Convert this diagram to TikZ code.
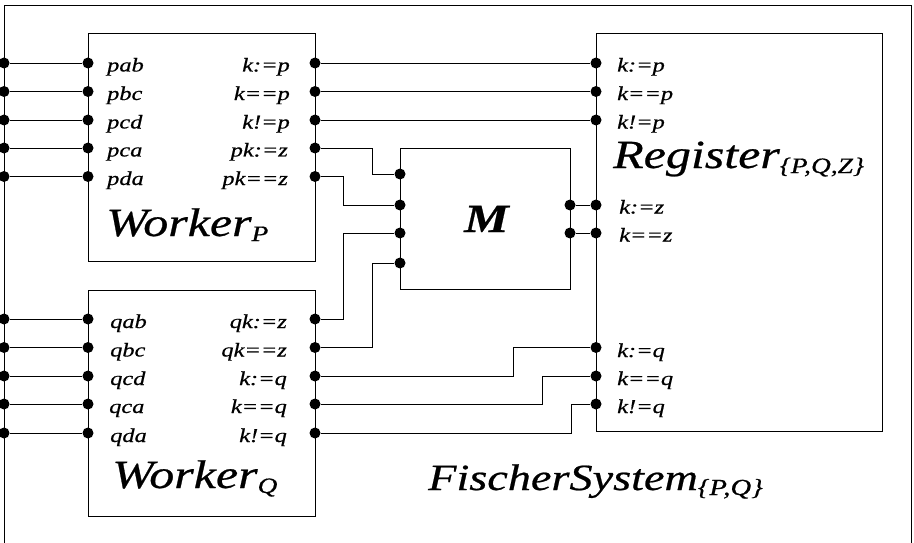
\documentclass[tikz,border=0pt]{standalone}
\usepackage{fontspec}
\setmainfont{Liberation Serif}[FakeStretch=1.25,FakeBold=0.6]
\newcommand\subidx[2][22]{\raisebox{-5pt}{\fontsize{#1}{#1}\selectfont #2}}
\begin{document}
\begin{tikzpicture}[x=1pt,y=-1pt,
  port/.style={circle,fill=black,inner sep=0pt,minimum size=11pt},
  wire/.style={line width=0.9pt},
  boxline/.style={line width=1pt},
  portlabel/.style={inner sep=0pt,font=\fontsize{19.5}{21}\selectfont\itshape},
  boxname/.style={inner sep=0pt,anchor=base west,font=\fontsize{40}{42}\selectfont\itshape}]
\useasboundingbox (0,0) rectangle (914,543);

% Drawing outer frame FischerSystem
\draw [boxline] (4,543) -- (4,6) -- (911,6) -- (911,543);%

% Drawing box Worker_P
\draw [boxline] (88,34) rectangle (315,261);%
% Drawing box Worker_Q
\draw [boxline] (88,290) rectangle (315,516);%
% Drawing box M
\draw [boxline] (400,148) rectangle (570,289);%
% Drawing box Register
\draw [boxline] (596,34) rectangle (882,431);%

% Marking ports of Worker_P
\node (fpab) [port] at (4,63) {};%
\node (fpbc) [port] at (4,91.5) {};%
\node (fpcd) [port] at (4,120) {};%
\node (fpca) [port] at (4,148) {};%
\node (fpda) [port] at (4,176.5) {};%
\node (pab) [port] at (88,63) {};%
\node (pbc) [port] at (88,91.5) {};%
\node (pcd) [port] at (88,120) {};%
\node (pca) [port] at (88,148) {};%
\node (pda) [port] at (88,176.5) {};%
\node (pset) [port] at (315,63) {};%
\node (peq) [port] at (315,91.5) {};%
\node (pneq) [port] at (315,120) {};%
\node (pkset) [port] at (315,148) {};%
\node (pkeq) [port] at (315,176.5) {};%

% Marking ports of Worker_Q
\node (fqab) [port] at (4,319) {};%
\node (fqbc) [port] at (4,347.5) {};%
\node (fqcd) [port] at (4,376) {};%
\node (fqca) [port] at (4,404) {};%
\node (fqda) [port] at (4,433) {};%
\node (qab) [port] at (88,319) {};%
\node (qbc) [port] at (88,347.5) {};%
\node (qcd) [port] at (88,376) {};%
\node (qca) [port] at (88,404) {};%
\node (qda) [port] at (88,433) {};%
\node (qkset) [port] at (315,319) {};%
\node (qkeq) [port] at (315,347.5) {};%
\node (qset) [port] at (315,376) {};%
\node (qeq) [port] at (315,404) {};%
\node (qneq) [port] at (315,433) {};%

% Marking ports of M
\node (mpkset) [port] at (400,174) {};%
\node (mpkeq) [port] at (400,205) {};%
\node (mqkset) [port] at (400,233) {};%
\node (mqkeq) [port] at (400,263) {};%
\node (mzset) [port] at (570,205) {};%
\node (mzeq) [port] at (570,233) {};%

% Marking ports of Register
\node (rpset) [port] at (596,63) {};%
\node (rpeq) [port] at (596,91.5) {};%
\node (rpneq) [port] at (596,120) {};%
\node (rzset) [port] at (596,205) {};%
\node (rzeq) [port] at (596,233) {};%
\node (rqset) [port] at (596,347.5) {};%
\node (rqeq) [port] at (596,376) {};%
\node (rqneq) [port] at (596,404) {};%

% Jog columns
\coordinate (xa) at (343,0);%
\coordinate (xb) at (372,0);%
\coordinate (xc) at (513,0);%
\coordinate (xd) at (542,0);%
\coordinate (xe) at (571,0);%

% Drawing lines into Worker_P and Worker_Q
\draw [wire] (fpab) -- (pab);%
\draw [wire] (fpbc) -- (pbc);%
\draw [wire] (fpcd) -- (pcd);%
\draw [wire] (fpca) -- (pca);%
\draw [wire] (fpda) -- (pda);%
\draw [wire] (fqab) -- (qab);%
\draw [wire] (fqbc) -- (qbc);%
\draw [wire] (fqcd) -- (qcd);%
\draw [wire] (fqca) -- (qca);%
\draw [wire] (fqda) -- (qda);%

% Drawing lines Worker_P -- Register
\draw [wire] (pset) -- (rpset);%
\draw [wire] (peq) -- (rpeq);%
\draw [wire] (pneq) -- (rpneq);%

% Drawing lines into M
\draw [wire] (pkset) -- (pkset -| xb) |- (mpkset);%
\draw [wire] (pkeq) -- (pkeq -| xa) |- (mpkeq);%
\draw [wire] (qkset) -- (qkset -| xa) |- (mqkset);%
\draw [wire] (qkeq) -- (qkeq -| xb) |- (mqkeq);%
\draw [wire] (mzset) -- (rzset);%
\draw [wire] (mzeq) -- (rzeq);%

% Drawing lines Register -- Worker_Q
\draw [wire] (rqset) -- (rqset -| xc) |- (qset);%
\draw [wire] (rqeq) -- (rqeq -| xd) |- (qeq);%
\draw [wire] (rqneq) -- (rqneq -| xe) |- (qneq);%

% Marking labels of Worker_P
\node (tpab) [portlabel,anchor=base west] at (107,71.5) {pab};%
\node (tpbc) [portlabel,anchor=base west] at (107,100) {pbc};%
\node (tpcd) [portlabel,anchor=base west] at (107,128.5) {pcd};%
\node (tpca) [portlabel,anchor=base west] at (107,156.5) {pca};%
\node (tpda) [portlabel,anchor=base west] at (107,185) {pda};%
\node (tpset) [portlabel,anchor=base east] at (290,71.5) {k:=p};%
\node (tpeq) [portlabel,anchor=base east] at (290,100) {k==p};%
\node (tpneq) [portlabel,anchor=base east] at (290,128.5) {k!=p};%
\node (tpkset) [portlabel,anchor=base east] at (288,156.5) {pk:=z};%
\node (tpkeq) [portlabel,anchor=base east] at (288,185) {pk==z};%
\node (nworkerp) [boxname] at (106,236) {Worker\subidx{P}};%

% Marking labels of Worker_Q
\node (tqab) [portlabel,anchor=base west] at (110,328) {qab};%
\node (tqbc) [portlabel,anchor=base west] at (110,356.5) {qbc};%
\node (tqcd) [portlabel,anchor=base west] at (110,385) {qcd};%
\node (tqca) [portlabel,anchor=base west] at (109,413) {qca};%
\node (tqda) [portlabel,anchor=base west] at (110,442) {qda};%
\node (tqkset) [portlabel,anchor=base east] at (287,328) {qk:=z};%
\node (tqkeq) [portlabel,anchor=base east] at (287,356.5) {qk==z};%
\node (tqset) [portlabel,anchor=base east] at (287,385) {k:=q};%
\node (tqeq) [portlabel,anchor=base east] at (287,413) {k==q};%
\node (tqneq) [portlabel,anchor=base east] at (287,442) {k!=q};%
\node (nworkerq) [boxname] at (112,488) {Worker\subidx{Q}};%

% Marking label M
\node (nm) [boxname,font=\fontsize{40}{42}\selectfont\bfseries\itshape] at (464,232) {M};%

% Marking labels of Register
\node (trpset) [portlabel,anchor=base west] at (617,71.5) {k:=p};%
\node (trpeq) [portlabel,anchor=base west] at (617,100) {k==p};%
\node (trpneq) [portlabel,anchor=base west] at (617,128.5) {k!=p};%
\node (trzset) [portlabel,anchor=base west] at (619,213.5) {k:=z};%
\node (trzeq) [portlabel,anchor=base west] at (619,241.5) {k==z};%
\node (trqset) [portlabel,anchor=base west] at (617,357) {k:=q};%
\node (trqeq) [portlabel,anchor=base west] at (617,385) {k==q};%
\node (trqneq) [portlabel,anchor=base west] at (617,413) {k!=q};%
\node (nregister) [boxname] at (613,168) {Register\subidx{\{P,Q,Z\}}};%

% Marking label FischerSystem
\node (nsystem) [boxname,font=\fontsize{37}{40}\selectfont\itshape] at (428,490) {FischerSystem\subidx[23]{\{P,Q\}}};%
\end{tikzpicture}
\end{document}
